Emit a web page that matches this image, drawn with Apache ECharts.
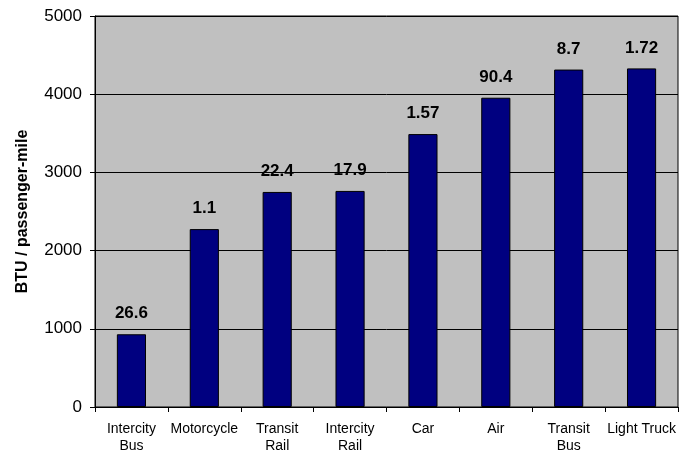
<!DOCTYPE html>
<html>
<head>
<meta charset="utf-8">
<script src="https://cdn.jsdelivr.net/npm/echarts@6/dist/echarts.min.js"></script>
<style>
html, body { margin: 0; padding: 0; background: #fff; }
#chart { width: 686px; height: 455px; }
</style>
</head>
<body>
<div id="chart"></div>
<script>
// categories and values
var modes = ['Intercity\nBus', 'Motorcycle', 'Transit\nRail', 'Intercity\nRail', 'Car', 'Air', 'Transit\nBus', 'Light Truck'];
var btuPerMile = [930, 2275, 2750, 2763, 3490, 3955, 4315, 4330];
// numbers printed above each bar
var barLabels = ['26.6', '1.1', '22.4', '17.9', '1.57', '90.4', '8.7', '1.72'];
var yTicks = [0, 1000, 2000, 3000, 4000, 5000];

var font = 'Liberation Sans, Arial, sans-serif';
var chart = echarts.init(document.getElementById('chart'));

var option = {
	animation : false,
	backgroundColor : '#fff',
	grid : {
		left : 95,
		top : 16,
		right : 8,
		bottom : 45,
		show : true,
		backgroundColor : '#C0C0C0',
		borderColor : '#000',
		borderWidth : 1
	},
	xAxis : {
		type : 'category',
		data : modes,
		axisLine : { lineStyle : { color : '#000', width : 1 } },
		axisTick : { show : true, alignWithLabel : false, length : 5, lineStyle : { color : '#000' } },
		axisLabel : {
			color : '#000',
			fontFamily : font,
			fontSize : 14,
			lineHeight : 17,
			margin : 14,
			interval : 0
		}
	},
	yAxis : {
		type : 'value',
		min : yTicks[0],
		max : yTicks[yTicks.length - 1],
		interval : 1000,
		name : 'BTU / passenger-mile',
		nameLocation : 'middle',
		nameGap : 64,
		nameRotate : 90,
		nameTextStyle : { color : '#000', fontFamily : font, fontSize : 16, fontWeight : 'bold' },
		axisLine : { show : true, lineStyle : { color : '#000', width : 1 } },
		axisTick : { show : true, length : 5, lineStyle : { color : '#000' } },
		axisLabel : {
			color : '#000',
			fontFamily : font,
			fontSize : 17,
			margin : 13,
			formatter : function(v) {
				return String(v);
			}
		},
		splitLine : { show : true, lineStyle : { color : '#000', width : 1 } }
	},
	series : [{
		type : 'bar',
		data : btuPerMile,
		barWidth : '40%',
		itemStyle : { color : '#000080', borderColor : '#000', borderWidth : 1 },
		label : {
			show : true,
			position : 'top',
			distance : 12,
			color : '#000',
			fontFamily : font,
			fontSize : 17,
			fontWeight : 'bold',
			formatter : function(p) {
				return barLabels[p.dataIndex];
			}
		}
	}]
};

chart.setOption(option);
</script>
</body>
</html>
